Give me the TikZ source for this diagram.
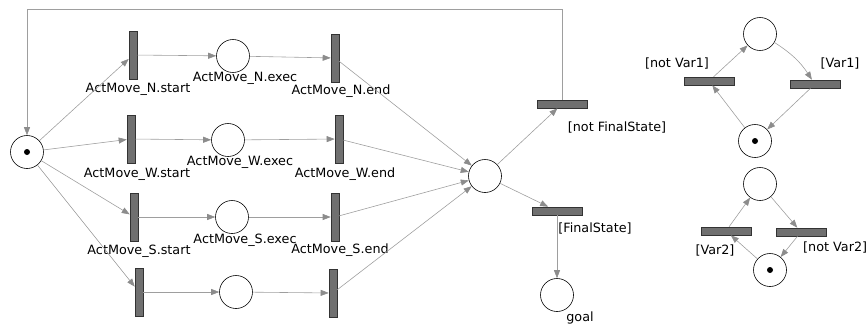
\documentclass[tikz,border=0pt]{standalone}
\usepackage{fontspec}
\setmainfont{DejaVu Sans}
\usetikzlibrary{arrows.meta}

\tikzset{
  place/.style={circle, draw=black, line width=0.5pt, minimum size=0.99cm, inner sep=0pt},
  marked/.style={place, path picture={\fill[black] (path picture bounding box.center) circle (0.09cm);}},
  trans/.style={rectangle, draw=black!80, fill=black!56, line width=0.5pt, inner sep=0pt},
  vtrans/.style={trans, minimum width=0.24cm, minimum height=1.44cm},
  htrans/.style={trans, minimum width=1.5cm, minimum height=0.24cm},
  arc/.style={draw=black!38, line width=0.5pt, -{Triangle[length=0.24cm, width=0.18cm, color=black!45]}},
  lbl/.style={font=\fontsize{10.9}{12}\selectfont, inner sep=0pt}
}

\begin{document}
\begin{tikzpicture}[x=0.03cm, y=-0.03cm]
  \useasboundingbox (0,0) rectangle (866,327);

  % main net
  \node[marked] (p0) at (27,152) {};
  \coordinate (back) at (27,9);

  \node[vtrans] (ns) at (133,55) {};
  \node[place]  (nx) at (233,56) {};
  \node[vtrans] (ne) at (335,58) {};

  \node[vtrans] (ws) at (131,139) {};
  \node[place]  (wx) at (228,140) {};
  \node[vtrans] (we) at (339,139) {};

  \node[vtrans] (ss) at (134,217) {};
  \node[place]  (sx) at (232,217) {};
  \node[vtrans] (se) at (335,217) {};

  \node[vtrans] (es) at (139,292) {};
  \node[place]  (ex) at (236,292) {};
  \node[vtrans] (ee) at (333,293) {};

  \node[place]  (c)    at (485,176) {};
  \node[htrans] (nf)   at (562,104) {};
  \node[htrans] (fin)  at (557,211) {};
  \node[place]  (goal) at (557,295) {};

  \node[lbl] (ns-l) at (138,89)  {ActMove\_N.start};
  \node[lbl] (nx-l) at (245,78)  {ActMove\_N.exec};
  \node[lbl] (ne-l) at (341,91)  {ActMove\_N.end};
  \node[lbl] (ws-l) at (137,174) {ActMove\_W.start};
  \node[lbl] (wx-l) at (240,162) {ActMove\_W.exec};
  \node[lbl] (we-l) at (345,174) {ActMove\_W.end};
  \node[lbl] (ss-l) at (139,251) {ActMove\_S.start};
  \node[lbl] (sx-l) at (245,240) {ActMove\_S.exec};
  \node[lbl] (se-l) at (340,250) {ActMove\_S.end};
  \node[lbl] (nf-l) at (617,127) {[not FinalState]};
  \node[lbl] (fin-l) at (595,228) {[FinalState]};
  \node[lbl] (goal-l) at (580,318) {goal};

  \draw[arc] (p0) -- (ns);
  \draw[arc] (p0) -- (ws);
  \draw[arc] (p0) -- (ss);
  \draw[arc] (p0) -- (es);
  \draw[arc] (ns) -- (nx);
  \draw[arc] (ws) -- (wx);
  \draw[arc] (ss) -- (sx);
  \draw[arc] (es) -- (ex);
  \draw[arc] (nx) -- (ne);
  \draw[arc] (wx) -- (we);
  \draw[arc] (sx) -- (se);
  \draw[arc] (ex) -- (ee);
  \draw[arc] (ne) -- (c);
  \draw[arc] (we) -- (c);
  \draw[arc] (se) -- (c);
  \draw[arc] (ee) -- (c);
  \draw[arc] (c) -- (nf);
  \draw[arc] (c) -- (fin);
  \draw[arc] (fin) -- (goal);
  \draw[arc] (nf.north) |- (back) -- (p0);

  % Var1 toggle
  \node[place]  (v1t) at (760,34)  {};
  \node[htrans] (v1n) at (709,81)  {};
  \node[htrans] (v1y) at (815,84)  {};
  \node[marked] (v1b) at (755,141) {};
  \node[lbl] (v1n-l) at (677,63) {[not Var1]};
  \node[lbl] (v1y-l) at (840,63) {[Var1]};
  \draw[arc] (v1b) -- (v1n);
  \draw[arc] (v1n) -- (v1t);
  \draw[arc] (v1t) to[bend left=12] (v1y);
  \draw[arc] (v1y) -- (v1b);

  % Var2 toggle
  \node[place]  (v2t) at (760,184) {};
  \node[htrans] (v2y) at (726,231) {};
  \node[htrans] (v2n) at (801,232) {};
  \node[marked] (v2b) at (770,270) {};
  \node[lbl] (v2y-l) at (715,250) {[Var2]};
  \node[lbl, anchor=west] (v2n-l) at (803,247) {[not Var2]};
  \draw[arc] (v2b) -- (v2y);
  \draw[arc] (v2y) -- (v2t);
  \draw[arc] (v2t) -- (v2n);
  \draw[arc] (v2n) -- (v2b);
\end{tikzpicture}
\end{document}
